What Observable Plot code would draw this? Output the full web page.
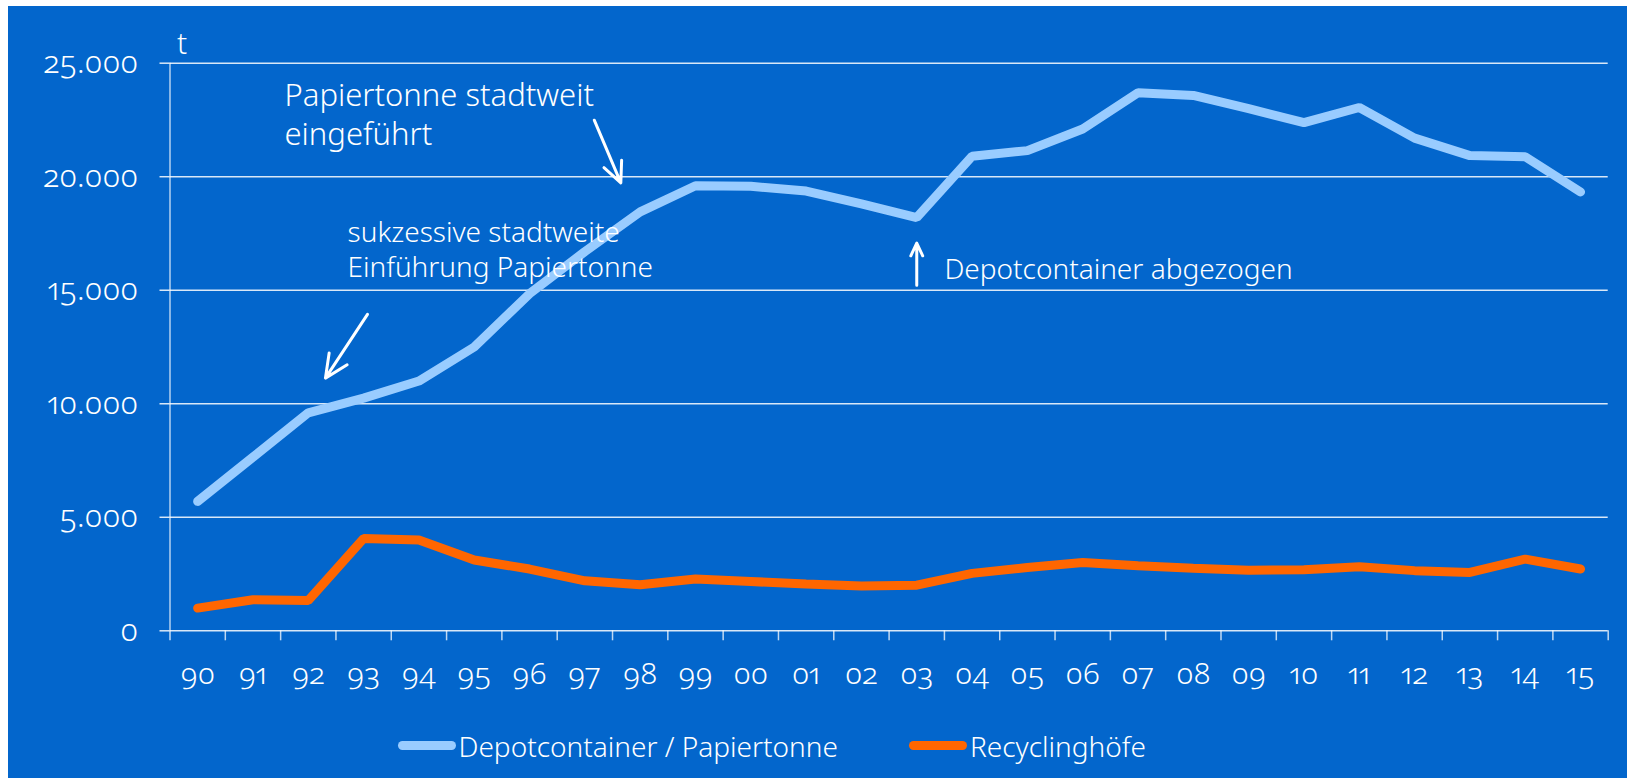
<!DOCTYPE html>
<html><head><meta charset="utf-8">
<script src="https://cdn.jsdelivr.net/npm/d3@7"></script>
<script src="https://cdn.jsdelivr.net/npm/@observablehq/plot@0.6"></script>
<style>
html,body{margin:0;padding:0;background:#fff;width:1627px;height:778px;overflow:hidden;}
#panel{position:absolute;left:8px;top:6px;width:1619px;height:772px;background:#0366CC;font-family:"Noto Sans",sans-serif;font-weight:300;color:#fff;}
#panel svg text{font-variant-numeric:oldstyle-nums proportional-nums;font-weight:300;}
#legend{position:absolute;left:0;top:700px;width:1619px;height:72px;font-size:28px;}
.item{position:absolute;top:20.5px;display:flex;align-items:center;white-space:nowrap;}
.sw{display:inline-block;width:58px;height:9px;border-radius:4.5px;margin-right:3px;}
</style></head><body><div id="panel"></div>
<script>
const years = ["90","91","92","93","94","95","96","97","98","99","00","01","02","03","04","05","06","07","08","09","10","11","12","13","14","15"];
const depot = [5700,7650,9600,10250,11000,12500,14850,16700,18450,19600,19580,19370,18800,18200,20900,21150,22100,23700,23580,23000,22380,23050,21700,20930,20880,19330];
const recyc = [1000,1370,1330,4070,4000,3120,2720,2200,2030,2280,2170,2060,1970,2010,2530,2790,3010,2870,2760,2670,2690,2820,2650,2570,3160,2720];
const seriesNames = ["Depotcontainer / Papiertonne","Recyclinghöfe"];
const seriesColors = ["#99CCFF","#FF6600"];
const yTicks = [0,5000,10000,15000,20000,25000];
const unitLabel = "t";
// annotation texts and anchor positions (x in category index units, y in t)
const noteTexts = ["Papiertonne stadtweit\neingeführt","sukzessive stadtweite\nEinführung Papiertonne","Depotcontainer abgezogen"];
const noteX = [2.07,3.21,14.0];
const noteY = [21410,15580,15510];
const noteSize = [31,28,28];
const noteLineHeight = [1.25,1.25,1.2];
const arrowX1 = [7.67,3.57,13.5];
const arrowY1 = [22490,13940,15220];
const arrowX2 = [8.15,2.81,13.5];
const arrowY2 = [19730,11130,17080];

const de = d3.formatLocale({decimal:",",thousands:".",grouping:[3],currency:["","€"]});
const fmt = de.format(",");

const rows = [];
years.forEach((yr,i)=>{
  rows.push({x:i+0.5, v:depot[i], s:seriesNames[0]});
});
years.forEach((yr,i)=>{
  rows.push({x:i+0.5, v:recyc[i], s:seriesNames[1]});
});
const notes = noteTexts.map((t,i)=>({t, x:noteX[i], y:noteY[i]}));
const arrows = arrowX1.map((d,i)=>({x1:arrowX1[i],y1:arrowY1[i],x2:arrowX2[i],y2:arrowY2[i]}));

const noteMarks = notes.map((n,i)=>Plot.text([n], {x:"x", y:"y", text:"t", lineAnchor:"bottom", textAnchor:"start", fontSize:noteSize[i], lineHeight:noteLineHeight[i], fill:"#fff"}));

const chart = Plot.plot({
  width:1619, height:700,
  marginLeft:161.5, marginRight:19.3, marginTop:56.7, marginBottom:75.7,
  style:{background:"transparent", color:"#fff", fontFamily:'"Noto Sans",sans-serif', fontSize:"30px"},
  x:{domain:[0,26]},
  y:{domain:[0,25000]},
  color:{domain:seriesNames, range:seriesColors},
  marks:[
    Plot.gridY(yTicks, {stroke:"#fff", strokeOpacity:0.85, strokeWidth:1.5}),
    Plot.axisY(yTicks, {tickSize:10, tickPadding:22, tickFormat:fmt, stroke:"#fff", strokeOpacity:0.85, strokeWidth:1.5, fontSize:31, label:null}),
    Plot.ruleX([0], {y1:0, y2:25000, stroke:"#fff", strokeOpacity:0.7, strokeWidth:1.5}),
    Plot.axisX(d3.range(27), {tickSize:10, tickFormat:()=>"", label:null, stroke:"#fff", strokeOpacity:0.75, strokeWidth:1.5}),
    Plot.axisX(years.map((_,i)=>i+0.5), {tickSize:0, tickPadding:32, tickFormat:d=>years[Math.round(d-0.5)], label:null, fontSize:30}),
    Plot.line(rows, {x:"x", y:"v", z:"s", stroke:"s", strokeWidth:9, strokeLinejoin:"miter", strokeLinecap:"round"}),
    Plot.text([unitLabel], {x:()=>0, y:()=>25000, text:d=>d, dx:7, dy:-9.4, lineAnchor:"bottom", textAnchor:"start", fontSize:30, fill:"#fff"}),
    Plot.arrow(arrows, {x1:"x1", y1:"y1", x2:"x2", y2:"y2", stroke:"#fff", strokeWidth:3, headLength:16, headAngle:50}),
    ...noteMarks
  ]
});
const panel = document.getElementById("panel");
panel.appendChild(chart);
const legend = document.createElement("div");
legend.id = "legend";
const legendLeft = [389.5, 901];
seriesNames.forEach((n,i)=>{
  const it = document.createElement("div");
  it.className = "item";
  it.style.left = legendLeft[i] + "px";
  const sw = document.createElement("span");
  sw.className = "sw";
  sw.style.background = seriesColors[i];
  const tx = document.createElement("span");
  tx.textContent = n;
  it.appendChild(sw); it.appendChild(tx);
  legend.appendChild(it);
});
panel.appendChild(legend);
</script></body></html>
